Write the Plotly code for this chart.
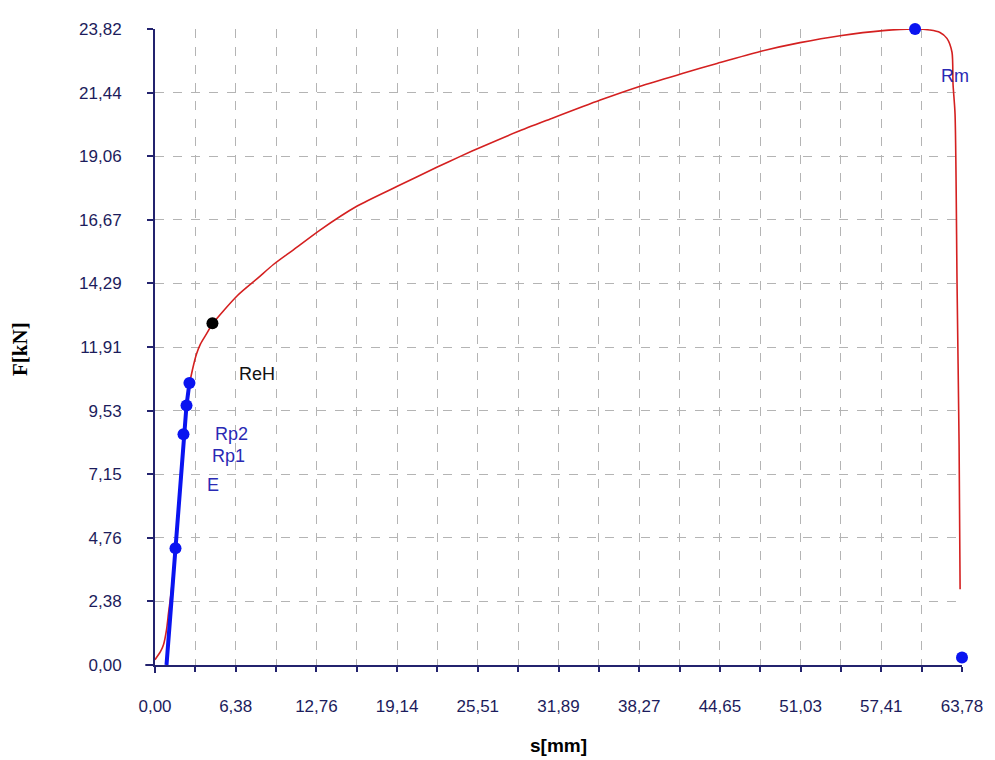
import plotly.graph_objects as go

# ---- data ----
curve_s = [0.0, 0.43, 0.67, 0.91, 1.07, 1.30, 1.62, 1.94, 2.25, 2.49, 2.72, 2.96, 3.28, 3.59,
           4.07, 4.54, 6.52, 8.10, 9.36, 10.94, 13.07, 15.98, 19.15, 22.31, 24.13, 25.94,
           28.63, 31.24, 35.19, 38.35, 41.74, 44.42, 47.82, 50.98, 54.14, 57.54, 60.07,
           61.25, 62.04, 62.59, 62.99, 63.07, 63.23, 63.39, 63.55, 63.63]
curve_F = [0.20, 0.50, 0.76, 1.32, 1.95, 2.81, 4.37, 6.34, 8.38, 9.72, 10.50, 11.06, 11.65, 12.02,
           12.40, 12.77, 13.84, 14.48, 15.00, 15.55, 16.30, 17.19, 17.93, 18.65, 19.05, 19.43,
           19.97, 20.45, 21.16, 21.68, 22.16, 22.53, 22.98, 23.31, 23.57, 23.76, 23.82,
           23.78, 23.69, 23.47, 22.95, 21.76, 20.64, 14.21, 8.27, 2.84]

elastic_s = [0.91, 1.62, 2.25, 2.49, 2.72]
elastic_F = [0.0, 4.37, 8.64, 9.72, 10.56]

blue_pts_s = [1.62, 2.25, 2.49, 2.72, 60.07, 63.78]
blue_pts_F = [4.37, 8.64, 9.72, 10.56, 23.82, 0.28]

reh_s = [4.54]
reh_F = [12.80]

labels = ["ReH", "Rp2", "Rp1", "E", "Rm"]
label_s = [8.10, 6.04, 5.80, 4.62, 63.23]
label_F = [10.91, 8.64, 7.82, 6.74, 22.06]
label_colors = ["#111111", "#2a2ab4", "#2a2ab4", "#2a2ab4", "#2a2ab4"]

x_step = 3.189
x_ticklabels = ["0,00", "", "6,38", "", "12,76", "", "19,14", "", "25,51", "", "31,89", "",
                "38,27", "", "44,65", "", "51,03", "", "57,41", "", "63,78"]
y_step = 2.382
y_ticklabels = ["0,00", "2,38", "4,76", "7,15", "9,53", "11,91", "14,29", "16,67",
                "19,06", "21,44", "23,82"]

x_tickvals = [i * x_step for i in range(len(x_ticklabels))]
y_tickvals = [i * y_step for i in range(len(y_ticklabels))]

AXIS = "#23236e"
TICKFONT = dict(family="Liberation Sans, Arial", size=17, color="#1c1c5c")

fig = go.Figure()
fig.add_trace(go.Scatter(x=curve_s, y=curve_F, mode="lines",
                         line=dict(color="#d42020", width=1.6, shape="spline", smoothing=0.7),
                         cliponaxis=False, hoverinfo="skip"))
fig.add_trace(go.Scatter(x=elastic_s, y=elastic_F, mode="lines",
                         line=dict(color="#0a14f0", width=4), cliponaxis=False))
fig.add_trace(go.Scatter(x=blue_pts_s, y=blue_pts_F, mode="markers",
                         marker=dict(color="#0a14f0", size=12, symbol="circle"),
                         cliponaxis=False))
fig.add_trace(go.Scatter(x=reh_s, y=reh_F, mode="markers",
                         marker=dict(color="#000000", size=12, symbol="circle"),
                         cliponaxis=False))

for t, xs, ys, c in zip(labels, label_s, label_F, label_colors):
    fig.add_annotation(x=xs, y=ys, text=t, showarrow=False, xanchor="center",
                       yanchor="middle",
                       font=dict(family="Liberation Sans, Arial", size=18, color=c))

fig.add_annotation(x=0, y=0.5, xref="paper", yref="paper", text="<b>F[kN]</b>",
                   textangle=-90, showarrow=False, xanchor="center", yanchor="middle",
                   xshift=-135, yshift=-2,
                   font=dict(family="Liberation Serif, Times New Roman", size=21, color="#000000"))
fig.add_annotation(x=0.5, y=0, xref="paper", yref="paper", text="<b>s[mm]</b>",
                   showarrow=False, xanchor="center", yanchor="middle", yshift=-80,
                   font=dict(family="Liberation Sans, Arial", size=19, color="#000000"))

# small axis overhangs at the origin
fig.add_shape(type="line", xref="paper", yref="paper", x0=-0.012, x1=0, y0=0, y1=0,
              line=dict(color=AXIS, width=2))
fig.add_shape(type="line", xref="paper", yref="paper", x0=0, x1=0, y0=-0.0125, y1=0,
              line=dict(color=AXIS, width=2))

fig.update_xaxes(range=[0, 63.78], tickmode="array", tickvals=x_tickvals,
                 ticktext=x_ticklabels, showgrid=True, gridcolor="#b4b4b4",
                 griddash="dash", gridwidth=1, showline=True, linecolor=AXIS,
                 linewidth=2, ticks="outside", ticklen=5, tickcolor=AXIS, tickwidth=2,
                 tickfont=TICKFONT, ticklabelstandoff=20, zeroline=False)
fig.update_yaxes(range=[0, 23.82], tickmode="array", tickvals=y_tickvals,
                 ticktext=y_ticklabels, showgrid=True, gridcolor="#b4b4b4",
                 griddash="dash", gridwidth=1, showline=True, linecolor=AXIS,
                 linewidth=2, ticks="outside", ticklen=6, tickcolor=AXIS, tickwidth=2,
                 tickfont=TICKFONT, ticklabelstandoff=22, zeroline=False)

fig.update_layout(width=995, height=760, showlegend=False,
                  paper_bgcolor="white", plot_bgcolor="white",
                  margin=dict(l=147, r=41, t=16, b=103))

fig.write_html("out.html")
